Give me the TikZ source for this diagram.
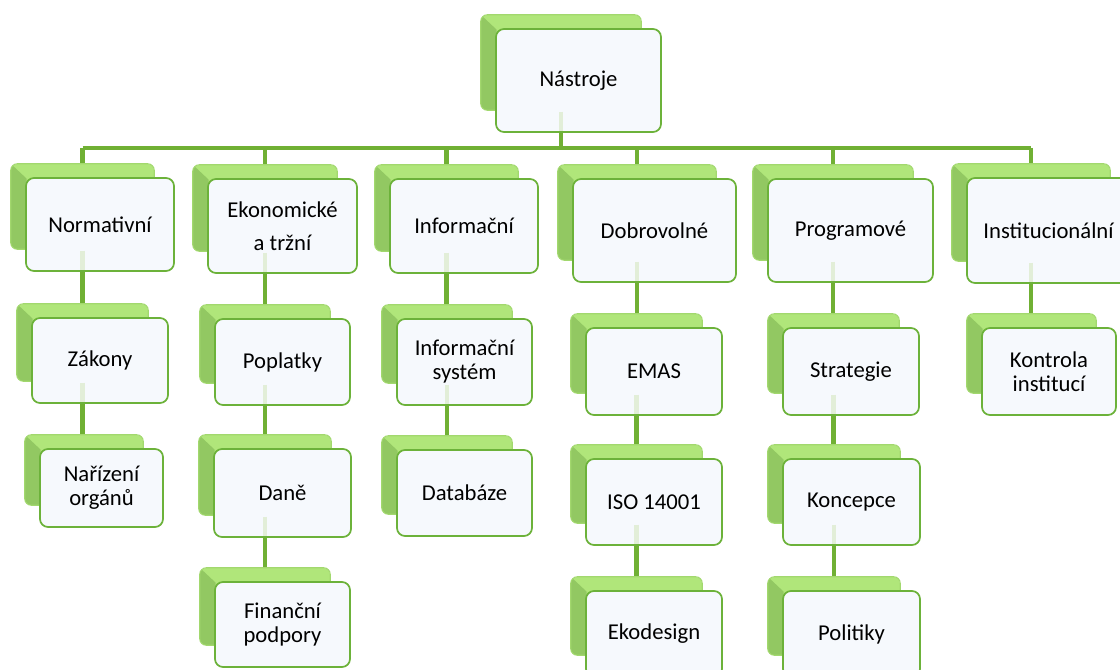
\documentclass[tikz,border=0pt]{standalone}
\usepackage{fontspec}
\setmainfont{Carlito}
\usetikzlibrary{fit}
\definecolor{linegreen}{RGB}{112,176,52}
\definecolor{faintgreen}{RGB}{226,238,216}
\definecolor{backfill}{RGB}{176,230,122}
\definecolor{backdark}{RGB}{146,200,98}
\definecolor{backedge}{RGB}{162,216,110}
\definecolor{frontedge}{RGB}{108,178,58}
\definecolor{frontfill}{RGB}{246,249,253}
\pgfdeclarelayer{bg}
\pgfdeclarelayer{fg}
\pgfsetlayers{bg,main,fg}
\tikzset{
  conn/.style={draw=linegreen, line width=3.6pt},
  faint/.style={draw=faintgreen, line width=3.6pt},
  backbox/.style={fill=backfill, rounded corners=5pt, inner sep=0pt},
  frontbox/.style={draw=frontedge, line width=1.3pt, fill=frontfill,
    rounded corners=6pt, inner sep=0pt},
  txt/.style={align=center, inner sep=0pt, font=\fontsize{17}{18}\selectfont},
}
\newcommand\mybox[6]{%
  \node[backbox, fit={({#2-15},{#3-14}) ({#4-20},{#5-22})}] (b#1) {};
  \begin{scope}
    \clip[rounded corners=5pt] (b#1.north west) rectangle (b#1.south east);
    \fill[backdark] (b#1.north west) -- ++(16,15) -- ([xshift=12pt]b#1.south west) -- (b#1.south west) -- cycle;
  \end{scope}
  \draw[backedge, line width=0.8pt, rounded corners=5pt] (b#1.north west) rectangle (b#1.south east);
  \node[frontbox, fit={(#2,#3) (#4,#5)}] (#1) {};
  \node[txt] (t#1) at (#1.center) {#6};
}
\begin{document}
\begin{tikzpicture}[x=0.75pt, y=-0.75pt]
\useasboundingbox (0,0) rectangle (1120,670);
\coordinate (bar) at (0,148);
\mybox{top}{496}{29}{661}{132}{Nástroje}
\mybox{n1}{26}{178}{174}{271}{Normativní}
\mybox{n2}{208}{179}{357}{273}{Ekonomické\\[7pt]a tržní}
\mybox{n3}{390}{179}{538}{273}{Informační}
\mybox{n4}{573}{179}{736}{282}{Dobrovolné}
\mybox{n5}{768}{179}{933}{282}{Programové}
\mybox{n6}{967}{178}{1130}{283}{Institucionální}
\mybox{n1a}{32}{318}{168}{403}{Zákony}
\mybox{n1c}{40}{449}{163}{527}{Nařízení\\orgánů}
\mybox{n2a}{215}{319}{350}{405}{Poplatky}
\mybox{n2c}{214}{449}{351}{537}{Daně}
\mybox{n2d}{215}{582}{350}{667}{Finanční\\podpory}
\mybox{n3a}{397}{319}{532}{405}{Informační\\systém}
\mybox{n3c}{397}{450}{532}{536}{Databáze}
\mybox{n4a}{586}{328}{722}{415}{EMAS}
\mybox{n4c}{586}{459}{722}{545}{ISO 14001}
\mybox{n4d}{586}{591}{722}{677}{Ekodesign}
\mybox{n5a}{783}{328}{919}{415}{Strategie}
\mybox{n5c}{783}{459}{920}{545}{Koncepce}
\mybox{n5d}{783}{591}{920}{677}{Politiky}
\mybox{n6a}{982}{328}{1116}{415}{Kontrola\\institucí}
\begin{pgfonlayer}{bg}
  \draw[conn] (btop.center) -- (btop.center |- bar);
  \draw[conn] (bn1.center |- bar) -- (bn6.center |- bar);
  \foreach \c in {n1,n2,n3,n4,n5,n6} {
    \draw[conn] (b\c.center |- bar) -- (b\c.center);
  }
  \foreach \p/\c in {n1/n1a, n1a/n1c, n2/n2a, n2a/n2c, n2c/n2d, n3/n3a, n3a/n3c,
                     n4/n4a, n4a/n4c, n4c/n4d, n5/n5a, n5a/n5c, n5c/n5d, n6/n6a} {
    \draw[conn] (b\p.center) -- (b\p.center |- b\c.center);
  }
\end{pgfonlayer}
\begin{pgfonlayer}{fg}
  \foreach \p in {top,n1,n1a,n2,n2a,n2c,n3,n3a,n4,n4a,n4c,n5,n5a,n5c,n6} {
    \draw[faint] ([yshift=-1pt]b\p.south) -- ([yshift=1.5pt]b\p.south |- \p.south);
  }
\end{pgfonlayer}
\end{tikzpicture}
\end{document}
